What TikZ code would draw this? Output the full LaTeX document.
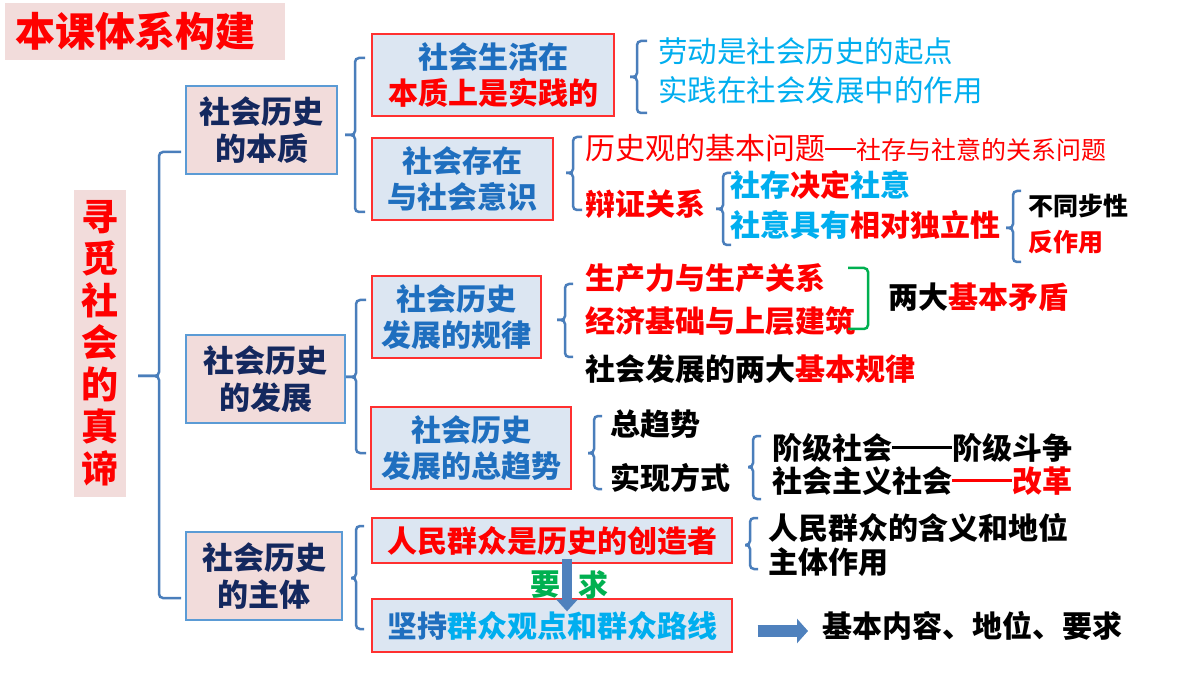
\documentclass[tikz,border=0pt]{standalone}
\usepackage{fontspec}
\setmainfont{Noto Sans CJK SC}
\usetikzlibrary{arrows.meta,calc}
\definecolor{navy}{HTML}{14285E}
\definecolor{boxblue}{HTML}{1F6FBF}
\definecolor{lblue}{HTML}{00AEEF}
\definecolor{pinkfill}{HTML}{F2DCDB}
\definecolor{bluefill}{HTML}{DCE6F2}
\definecolor{brkblue}{HTML}{4A7EBB}
\definecolor{lineborder}{HTML}{5B9BD5}
\definecolor{redline}{HTML}{FF3030}
\definecolor{arrowblue}{HTML}{4F81BD}
\definecolor{greentxt}{HTML}{00B050}
\definecolor{textred}{HTML}{FF0000}
\newcommand\mybrk[6]{%
  \draw[brk] (#1+#5,#2) -- (#1,#2) -- (#1,#4) -- (#1-#6,#4);
  \draw[brk] (#1-#6,#4) -- (#1,#4) -- (#1,#3) -- (#1+#5,#3);}
\newcommand\dashrule[1]{\raisebox{10.5pt}{\rule{#1}{3.2pt}}}
\begin{document}
\begin{tikzpicture}[x=1pt,y=-1pt,
  every node/.style={inner sep=0pt},
  brk/.style={draw=brkblue,line width=2.5pt,rounded corners=4pt},
  tx/.style={font=\fontsize{30}{36}\selectfont\bfseries, anchor=west, text=black},
  thintx/.style={font=\fontsize{29.5}{36}\selectfont, anchor=west},
  lonebox/.style={draw=lineborder, line width=1.5pt, fill=pinkfill, text=navy, align=center, font=\fontsize{31}{37}\selectfont\bfseries},
  ltwobox/.style={draw=redline, line width=1.3pt, fill=bluefill, text=boxblue, align=center, font=\fontsize{30}{36}\selectfont\bfseries},
  blockarrow/.style={draw=arrowblue},
]
\useasboundingbox (0,0) rectangle (1200,676);
\fill[white] (0,0) rectangle (1200,676);

% title and root
\node[fill=pinkfill, anchor=west, inner xsep=10pt, minimum height=57pt, font=\fontsize{40}{48}\selectfont\bfseries, text=textred] (title) at (5,31.5) {本课体系构建\hspace*{20pt}};
\node[fill=pinkfill, minimum width=52pt, minimum height=307pt, align=center, text=textred, font=\fontsize{37}{42}\selectfont\bfseries] (root) at (100,343.5) {寻\\觅\\社\\会\\的\\真\\谛};

% level 1
\node[lonebox, minimum width=151pt, minimum height=88pt] (n1) at (261.5,130) {社会历史\\的本质};
\node[lonebox, minimum width=159pt, minimum height=88pt] (n2) at (265.5,379) {社会历史\\的发展};
\node[lonebox, minimum width=156pt, minimum height=88pt] (n3) at (264,576) {社会历史\\的主体};

% level 2
\node[ltwobox, minimum width=242pt, minimum height=82pt] (b1) at (493,75) {社会生活在\\\textcolor{textred}{本质上是实践的}};
\node[ltwobox, minimum width=181pt, minimum height=82pt] (b2) at (462.5,179) {社会存在\\与社会意识};
\node[ltwobox, minimum width=169pt, minimum height=82pt] (b3) at (456.5,317) {社会历史\\发展的规律};
\node[ltwobox, minimum width=200pt, minimum height=82pt] (b4) at (471,448) {社会历史\\发展的总趋势};
\node[ltwobox, minimum width=360pt, minimum height=45pt, text=textred] (b5) at (552,540.5) {人民群众是历史的创造者};
\node[ltwobox, minimum width=360pt, minimum height=53pt] (b6) at (552,625.5) {坚持\textcolor{lblue}{群众观点和群众路线}};

% texts
\node[thintx, text=lblue] (t1) at (658,51) {劳动是社会历史的起点};
\node[thintx, text=lblue] (t2) at (658,90) {实践在社会发展中的作用};
\node[anchor=west, text=textred, font=\fontsize{30}{36}\selectfont] (t3) at (585,148) {历史观的基本问题\raisebox{9.5pt}{\rule{31pt}{1.6pt}}{\fontsize{25}{30}\selectfont 社存与社意的关系问题}};
\node[tx, text=textred] (t4) at (585,204) {辩证关系};
\node[tx, text=lblue] (t5) at (730,185) {社存\textcolor{textred}{决定}社意};
\node[tx, text=lblue] (t6) at (730,225) {社意具有\textcolor{textred}{相对独立性}};
\node[tx, font=\fontsize{25}{30}\selectfont\bfseries] (t7) at (1028,206) {不同步性};
\node[tx, text=textred, font=\fontsize{25}{30}\selectfont\bfseries] (t8) at (1028,242) {反作用};
\node[tx, text=textred] (t9) at (585,278) {生产力与生产关系};
\node[tx, text=textred] (t10) at (585,321) {经济基础与上层建筑};
\node[tx] (t11) at (585,369) {社会发展的两大\textcolor{textred}{基本规律}};
\node[tx] (t12) at (888,297) {两大\textcolor{textred}{基本矛盾}};
\node[tx] (t13) at (610,424) {总趋势};
\node[tx] (t14) at (610,478) {实现方式};
\node[tx] (t15) at (772,448) {阶级社会\dashrule{60pt}阶级斗争};
\node[tx] (t16) at (772,481) {社会主义社会\textcolor{textred}{\dashrule{60pt}改革}};
\node[tx] (t17) at (768,528) {人民群众的含义和地位};
\node[tx] (t18) at (768,562) {主体作用};
\node[tx] (k1) at (822,626) {基本内容、地位、要求};
\node[tx, text=greentxt] (y1) at (530,585) {要};
\node[tx, text=greentxt] (y2) at (578,585) {求};

% brackets
\mybrk{159}{152}{598}{376}{22}{21}
\mybrk{355}{58}{212}{135}{10}{10}
\mybrk{637}{41}{113}{77}{10}{7}
\mybrk{573}{137}{210}{173}{9}{7}
\mybrk{723}{173}{245}{209}{8}{7}
\mybrk{1013}{191}{262}{228}{8}{7}
\mybrk{356}{300}{453}{377}{10}{10}
\mybrk{565}{284}{357}{320}{8}{8}
\mybrk{594}{416}{489}{453}{8}{6}
\mybrk{753}{436}{499}{467}{8}{5}
\mybrk{356}{526}{629}{578}{8}{5}
\mybrk{750}{518}{569}{545}{8}{5}
\draw[draw=greentxt, line width=2.5pt, rounded corners=4pt] (848,268) -- (868,268) -- (868,329) -- (848,329);

% arrows
\coordinate (aS) at ([xshift=15pt,yshift=5pt]b5.south);
\coordinate (aE) at ([xshift=15pt,yshift=-13pt]b6.north);
\draw[blockarrow, line width=10pt, -{Triangle[width=21pt,length=12pt]}] (aS) -- (aE);
\coordinate (rS) at ([xshift=25pt,yshift=-5.5pt]b6.east);
\coordinate (rE) at ([xshift=-14pt,yshift=-5pt]k1.west);
\draw[blockarrow, line width=12pt, -{Triangle[width=24pt,length=11pt]}] (rS) -- (rE);
\end{tikzpicture}
\end{document}
